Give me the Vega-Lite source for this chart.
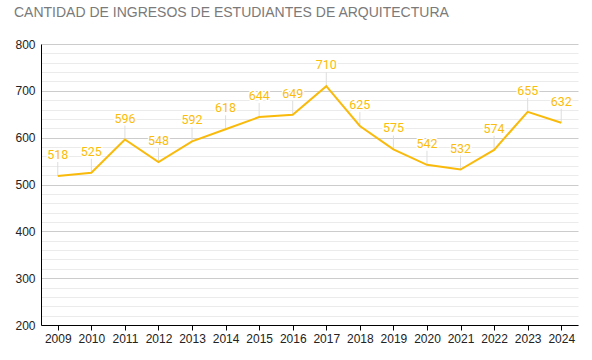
{
  "$schema": "https://vega.github.io/schema/vega-lite/v6.json",
  "width": 537,
  "height": 281,
  "autosize": {"type": "none"},
  "padding": {"left": 41, "top": 44, "right": 14, "bottom": 35},
  "background": "white",
  "title": {
    "text": "CANTIDAD DE INGRESOS DE ESTUDIANTES DE ARQUITECTURA",
    "anchor": "start",
    "frame": "group",
    "dx": -27,
    "offset": 18,
    "font": "Liberation Sans",
    "fontSize": 14,
    "fontWeight": "normal",
    "color": "#7a7a7a"
  },
  "config": {"view": {"stroke": null}},
  "data": {
    "values": [
      {"year": "2009", "value": 518},
      {"year": "2010", "value": 525},
      {"year": "2011", "value": 596},
      {"year": "2012", "value": 548},
      {"year": "2013", "value": 592},
      {"year": "2014", "value": 618},
      {"year": "2015", "value": 644},
      {"year": "2016", "value": 649},
      {"year": "2017", "value": 710},
      {"year": "2018", "value": 625},
      {"year": "2019", "value": 575},
      {"year": "2020", "value": 542},
      {"year": "2021", "value": 532},
      {"year": "2022", "value": 574},
      {"year": "2023", "value": 655},
      {"year": "2024", "value": 632}
    ]
  },
  "encoding": {
    "x": {
      "field": "year",
      "type": "ordinal",
      "scale": {"type": "point", "padding": 0.5},
      "axis": {
        "title": null,
        "labelAngle": 0,
        "grid": false,
        "domainColor": "#000000",
        "tickColor": "#000000",
        "tickSize": 5,
        "labelPadding": 3,
        "labelFont": "Liberation Sans",
        "labelFontSize": 12,
        "labelColor": "#222222"
      }
    },
    "y": {
      "field": "value",
      "type": "quantitative",
      "scale": {"domain": [200, 800], "nice": false, "zero": false},
      "axis": {
        "title": null,
        "values": [200,220,240,260,280,300,320,340,360,380,400,420,440,460,480,500,520,540,560,580,600,620,640,660,680,700,720,740,760,780,800],
        "labelExpr": "datum.value % 100 === 0 ? datum.label : ''",
        "labelOverlap": false,
        "grid": true,
        "gridColor": {"condition": {"test": "datum.value % 100 === 0", "value": "#cccccc"}, "value": "#ebebeb"},
        "ticks": false,
        "domainColor": "#000000",
        "labelPadding": 6,
        "labelFont": "Liberation Sans",
        "labelFontSize": 12,
        "labelColor": "#222222"
      }
    }
  },
  "layer": [
    {
      "mark": {"type": "tick", "orient": "vertical", "size": 14, "thickness": 1, "yOffset": -7, "color": "#dddddd", "opacity": 1}
    },
    {
      "mark": {"type": "line", "color": "#F9BA0B", "strokeWidth": 2}
    },
    {
      "mark": {"type": "text", "yOffset": -21, "font": "Roboto", "fontSize": 12.5, "stroke": "white", "strokeWidth": 3, "fill": "white"},
      "encoding": {"text": {"field": "value", "type": "quantitative"}}
    },
    {
      "mark": {"type": "text", "yOffset": -21, "font": "Roboto", "fontSize": 12.5, "fill": "#FBBC0A"},
      "encoding": {"text": {"field": "value", "type": "quantitative"}}
    }
  ]
}
